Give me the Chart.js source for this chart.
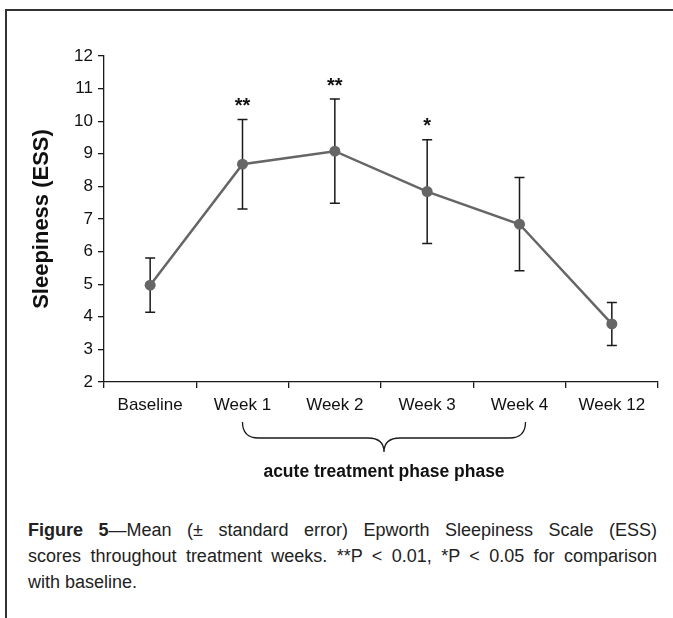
<!DOCTYPE html>
<html>
<head>
<meta charset="utf-8">
<script src="https://cdn.jsdelivr.net/npm/chart.js@4/dist/chart.umd.min.js"></script>
<style>
  html, body { margin: 0; padding: 0; background: #fff; }
  body { width: 673px; height: 618px; position: relative; overflow: hidden; font-family: "Liberation Sans", Arial, sans-serif; }
  #frame { position: absolute; left: 5px; top: 9px; width: 680px; height: 620px; border-top: 2px solid #333; border-left: 2px solid #333; }
  #wrap { position: absolute; left: 0; top: 0; width: 673px; height: 500px; }
  #caption { position: absolute; left: 28px; top: 517px; width: 629px; font-size: 18px; line-height: 26px; color: #222; }
  #caption .l { display: block; text-align: justify; text-align-last: justify; white-space: nowrap; }
  #caption .last { display: block; }
  #caption b { font-weight: bold; }
</style>
</head>
<body>
<div id="frame"></div>
<div id="wrap"><canvas id="myChart" width="673" height="500"></canvas></div>
<div id="caption">
  <span class="l"><b>Figure 5</b>—Mean (± standard error) Epworth Sleepiness Scale (ESS)</span>
  <span class="l">scores throughout treatment weeks. **P &lt; 0.01, *P &lt; 0.05 for comparison</span>
  <span class="last">with baseline.</span>
</div>
<script>
const categories = ['Baseline', 'Week 1', 'Week 2', 'Week 3', 'Week 4', 'Week 12'];
const meanEss = [4.97, 8.68, 9.08, 7.84, 6.84, 3.78];
const seEss = [0.83, 1.37, 1.6, 1.59, 1.43, 0.66];
const stars = ['', '**', '**', '*', '', ''];
const yTicks = [2, 3, 4, 5, 6, 7, 8, 9, 10, 11, 12];
const phaseLabel = 'acute treatment phase phase';
const phaseFrom = 1, phaseTo = 4;

const FONT = '"Liberation Sans", Arial, sans-serif';

// error bars + significance stars
const errorBars = {
  id: 'errorBars',
  beforeDatasetsDraw(chart) {
    const { ctx, scales: { x, y } } = chart;
    ctx.save();
    ctx.strokeStyle = '#1a1a1a';
    ctx.lineWidth = 1.5;
    meanEss.forEach((m, i) => {
      const px = x.getPixelForValue(i);
      const top = y.getPixelForValue(m + seEss[i]);
      const bot = y.getPixelForValue(m - seEss[i]);
      ctx.beginPath();
      ctx.moveTo(px, top); ctx.lineTo(px, bot);
      ctx.moveTo(px - 5, top); ctx.lineTo(px + 5, top);
      ctx.moveTo(px - 5, bot); ctx.lineTo(px + 5, bot);
      ctx.stroke();
    });
    ctx.fillStyle = '#111';
    ctx.font = 'bold 20px ' + FONT;
    ctx.textAlign = 'center';
    ctx.textBaseline = 'middle';
    stars.forEach((s, i) => {
      if (!s) return;
      const px = x.getPixelForValue(i);
      const top = y.getPixelForValue(meanEss[i] + seEss[i]);
      ctx.fillText(s, px, top - 13);
    });
    ctx.restore();
  }
};

// curly brace under the treatment weeks
const phaseBrace = {
  id: 'phaseBrace',
  afterDraw(chart) {
    const { ctx, scales: { x } } = chart;
    const x1 = x.getPixelForValue(phaseFrom);
    const x2 = x.getPixelForValue(phaseTo) + 6;
    const mid = (x1 + x2) / 2;
    const y0 = 422, y1 = 438, y2 = 452;
    ctx.save();
    ctx.strokeStyle = '#1a1a1a';
    ctx.lineWidth = 1.3;
    ctx.beginPath();
    ctx.moveTo(x1, y0);
    ctx.quadraticCurveTo(x1, y1, x1 + 16, y1);
    ctx.lineTo(mid - 16, y1);
    ctx.quadraticCurveTo(mid, y1, mid, y2);
    ctx.quadraticCurveTo(mid, y1, mid + 16, y1);
    ctx.lineTo(x2 - 16, y1);
    ctx.quadraticCurveTo(x2, y1, x2, y0);
    ctx.stroke();
    ctx.fillStyle = '#111';
    ctx.font = 'bold 17.5px ' + FONT;
    ctx.textAlign = 'center';
    ctx.textBaseline = 'middle';
    ctx.fillText(phaseLabel, mid, 472);
    ctx.restore();
  }
};

const ctx = document.getElementById('myChart');
new Chart(ctx, {
  type: 'line',
  data: {
    labels: categories,
    datasets: [{
      data: meanEss,
      borderColor: '#666666',
      backgroundColor: '#666666',
      borderWidth: 2.5,
      pointRadius: 5.5,
      pointBackgroundColor: '#666666',
      pointBorderWidth: 0,
      tension: 0
    }]
  },
  options: {
    responsive: false,
    animation: false,
    devicePixelRatio: 1,
    layout: { padding: { top: 56, left: 0, right: 15, bottom: 78 } },
    plugins: { legend: { display: false }, tooltip: { enabled: false } },
    scales: {
      x: {
        type: 'category',
        offset: true,
        grid: { offset: true, drawOnChartArea: false, drawTicks: true, tickLength: 6, color: '#1a1a1a', lineWidth: 1.3 },
        border: { display: true, color: '#1a1a1a', width: 1.3 },
        ticks: { color: '#111', padding: 7, font: { family: FONT, size: 17 }, maxRotation: 0 },
        afterFit(scale) { scale.height = 40; }
      },
      y: {
        min: 2, max: 12,
        afterBuildTicks(scale) { scale.ticks = yTicks.map(v => ({ value: v })); },
        grid: { drawOnChartArea: false, drawTicks: true, tickLength: 6, color: '#1a1a1a', lineWidth: 1.3 },
        border: { display: true, color: '#1a1a1a', width: 1.3 },
        ticks: { color: '#111', padding: 5, font: { family: FONT, size: 17 } },
        title: { display: true, text: 'Sleepiness (ESS)', color: '#111', font: { family: FONT, size: 22, weight: 'bold' }, padding: { top: 29, bottom: 0 } },
        afterFit(scale) { scale.width = 104; }
      }
    }
  },
  plugins: [errorBars, phaseBrace]
});
</script>
</body>
</html>
